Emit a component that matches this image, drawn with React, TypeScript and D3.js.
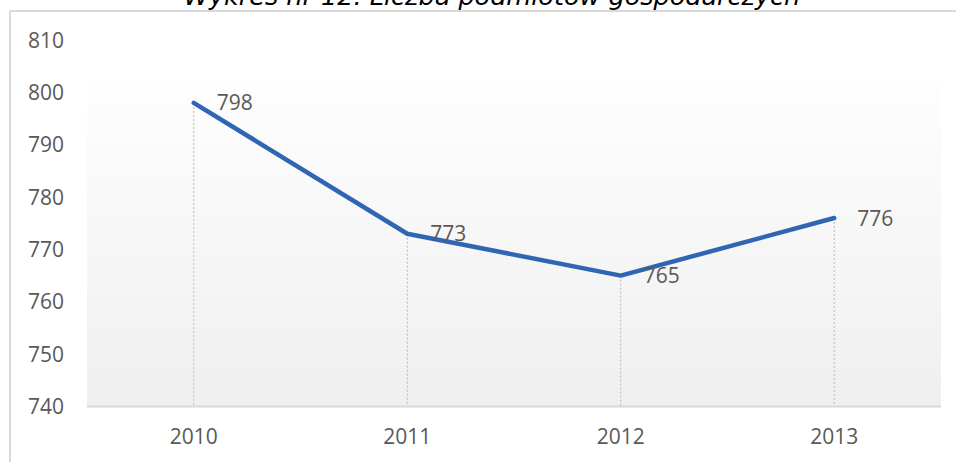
import React from 'react';
import * as d3 from 'd3';

// Liczba podmiotów gospodarczych
const years = ['2010', '2011', '2012', '2013'];
const values = [798, 773, 765, 776];
const yTicks = [740, 750, 760, 770, 780, 790, 800, 810];
const title = 'Wykres nr 12. Liczba podmiotów gospodarczych';

const W = 956;
const H = 462;
const plot = { left: 87, right: 941, top: 80, bottom: 406.5 };

const App: React.FC = () => {
    const x = d3.scaleBand<string>()
        .domain(years)
        .range([plot.left, plot.right]);

    const y = d3.scaleLinear()
        .domain([740, 810])
        .range([plot.bottom, 40]);

    const cx = (d: string) => (x(d) ?? 0) + x.bandwidth() / 2;

    const line = d3.line<number>()
        .x((_, i) => cx(years[i]))
        .y(d => y(d));

    const font = '"Open Sans", sans-serif';

    return (
        <svg width={W} height={H} style={{ position: 'absolute', left: 0, top: 0, background: '#fff' }}>
            <defs>
                <linearGradient id="bg" x1="0" y1="0" x2="0" y2="1">
                    <stop offset="0%" stopColor="#fefefe" />
                    <stop offset="100%" stopColor="#efefef" />
                </linearGradient>
            </defs>

            {/* frame */}
            <line x1={10} y1={11} x2={W} y2={11} stroke="#d9d9d9" strokeWidth={2} />
            <line x1={10} y1={11} x2={10} y2={H} stroke="#d9d9d9" strokeWidth={2} />

            <text x={492} y={5} textAnchor="middle" fontFamily='"DejaVu Sans", sans-serif' fontStyle="italic"
                  fontSize={25.5} fill="#000">{title}</text>

            <rect x={plot.left} y={plot.top} width={plot.right - plot.left}
                  height={plot.bottom - plot.top} fill="url(#bg)" />

            {/* drop lines */}
            {values.map((v, i) => (
                <line key={'d' + i} x1={cx(years[i])} x2={cx(years[i])} y1={y(v)} y2={plot.bottom}
                      stroke="#b8b8b8" strokeWidth={1} strokeDasharray="2,2" />
            ))}

            <line x1={plot.left} x2={plot.right} y1={plot.bottom} y2={plot.bottom}
                  stroke="#d9d9d9" strokeWidth={2} />

            {yTicks.map(t => (
                <text key={t} x={64} y={y(t)} dy="0.36em" textAnchor="end"
                      fontFamily={font} fontSize={21} fill="#595959">{t}</text>
            ))}

            {years.map(d => (
                <text key={d} x={cx(d)} y={444} textAnchor="middle"
                      fontFamily={font} fontSize={21} fill="#595959">{d}</text>
            ))}

            <path d={line(values) ?? ''} fill="none" stroke="#2f66b3" strokeWidth={4.5}
                  strokeLinejoin="round" strokeLinecap="round" />

            {values.map((v, i) => (
                <text key={'l' + i} x={cx(years[i]) + 23} y={y(v)} dy="0.36em"
                      fontFamily={font} fontSize={21} fill="#595959">{v}</text>
            ))}
        </svg>
    );
};

export default App;
